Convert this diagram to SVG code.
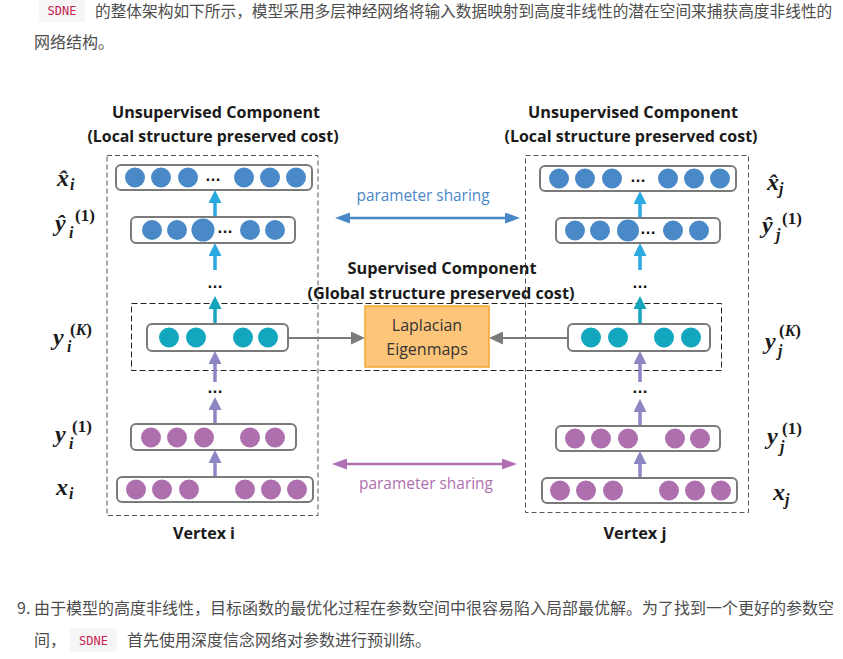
<svg xmlns="http://www.w3.org/2000/svg" width="843" height="659" viewBox="0 0 843 659">
<style>
.cn{font-family:"Noto Sans CJK SC","Noto Sans",sans-serif;font-size:16px;fill:#4d4d4d}
.code{font-family:"DejaVu Sans Mono","Liberation Mono",monospace;font-size:12px;fill:#c7254e}
.badge{fill:#f6f6f6}
.hd{font-family:"Open Sans","Liberation Sans",sans-serif;font-weight:bold;font-size:16px;fill:#1a1a1a;text-anchor:middle}
.lbl{font-family:"Open Sans","Liberation Sans",sans-serif;font-size:16px;text-anchor:middle}
.m{font-family:"Liberation Serif","DejaVu Serif",serif;font-style:italic;font-weight:bold;font-size:24px;fill:#1a1a1a}
.ms{font-family:"Liberation Serif","DejaVu Serif",serif;font-style:italic;font-weight:bold;font-size:16px;fill:#1a1a1a}
.mu{font-family:"Liberation Serif","DejaVu Serif",serif;font-style:normal;font-weight:bold;font-size:17px;fill:#1a1a1a}
.dots{font-family:"Liberation Sans",sans-serif;font-weight:bold;font-size:16px;fill:#111;text-anchor:middle}
.row{fill:#fff;stroke:#7a7a7a;stroke-width:2}
.cb{fill:#4a89c8}
.ct{fill:#13a6bf}
.cp{fill:#ae6fae}
.dash{fill:none;stroke:#555;stroke-width:1;stroke-dasharray:5 3}
.dash2{fill:none;stroke:#222;stroke-width:1;stroke-dasharray:6 3}
.ab{stroke:#29a9e0;stroke-width:3.5;fill:none}
.at{stroke:#17a3bc;stroke-width:3.5;fill:none}
.ap{stroke:#8c86c4;stroke-width:3.5;fill:none}
.ag{stroke:#7b7b7b;stroke-width:2;fill:none}
.sb{stroke:#4a87c8;stroke-width:2.5;fill:none}
.sp{stroke:#b06fb0;stroke-width:2.5;fill:none}
</style>
<defs>
<marker id="hb" markerWidth="13" markerHeight="13" refX="4" refY="6.5" orient="auto" markerUnits="userSpaceOnUse"><path d="M0,0 L13,6.5 L0,13 z" fill="#29a9e0"/></marker>
<marker id="ht" markerWidth="13" markerHeight="13" refX="4" refY="6.5" orient="auto" markerUnits="userSpaceOnUse"><path d="M0,0 L13,6.5 L0,13 z" fill="#17a3bc"/></marker>
<marker id="hp" markerWidth="13" markerHeight="13" refX="4" refY="6.5" orient="auto" markerUnits="userSpaceOnUse"><path d="M0,0 L13,6.5 L0,13 z" fill="#8c86c4"/></marker>
<marker id="hg" markerWidth="14" markerHeight="13" refX="4" refY="6.5" orient="auto" markerUnits="userSpaceOnUse"><path d="M0,0 L14,6.5 L0,13 z" fill="#7b7b7b"/></marker>
<marker id="sbE" markerWidth="15" markerHeight="11" refX="5" refY="5.5" orient="auto" markerUnits="userSpaceOnUse"><path d="M0,0 L15,5.5 L0,11 z" fill="#4a87c8"/></marker>
<marker id="sbS" markerWidth="15" markerHeight="11" refX="10" refY="5.5" orient="auto" markerUnits="userSpaceOnUse"><path d="M15,0 L0,5.5 L15,11 z" fill="#4a87c8"/></marker>
<marker id="spE" markerWidth="15" markerHeight="11" refX="5" refY="5.5" orient="auto" markerUnits="userSpaceOnUse"><path d="M0,0 L15,5.5 L0,11 z" fill="#b06fb0"/></marker>
<marker id="spS" markerWidth="15" markerHeight="11" refX="10" refY="5.5" orient="auto" markerUnits="userSpaceOnUse"><path d="M15,0 L0,5.5 L15,11 z" fill="#b06fb0"/></marker>
</defs>
<rect width="843" height="659" fill="#fff"/>

<!-- page text -->
<g id="intro">
<rect class="badge" x="39" y="0" width="46" height="22" rx="3"/>
<text class="code" x="62" y="15" text-anchor="middle">SDNE</text>
<text class="cn" x="95" y="17" style="font-size:15.7px">的整体架构如下所示，模型采用多层神经网络将输入数据映射到高度非线性的潜在空间来捕获高度非线性的</text>
<text class="cn" x="34" y="48">网络结构。</text>
</g>
<g id="note9">
<text class="cn" x="17" y="614">9.</text>
<text class="cn" x="34" y="614" textLength="800" lengthAdjust="spacingAndGlyphs">由于模型的高度非线性，目标函数的最优化过程在参数空间中很容易陷入局部最优解。为了找到一个更好的参数空</text>
<text class="cn" x="34" y="646">间，</text>
<rect class="badge" x="70" y="628" width="47" height="24" rx="3"/>
<text class="code" x="93.5" y="645" text-anchor="middle">SDNE</text>
<text class="cn" x="127" y="646">首先使用深度信念网络对参数进行预训练。</text>
</g>

<!-- dashed regions -->
<g id="regions">
<rect class="dash" x="107" y="155.5" width="211" height="360"/>
<rect class="dash" x="525.5" y="155.5" width="223" height="357"/>
<rect class="dash2" x="131.5" y="303.5" width="590" height="67"/>
</g>

<!-- headings -->
<g id="headings">
<text class="hd" x="216" y="118" textLength="208" lengthAdjust="spacingAndGlyphs">Unsupervised Component</text>
<text class="hd" x="213" y="142" textLength="251" lengthAdjust="spacingAndGlyphs">(Local structure preserved cost)</text>
<text class="hd" x="633" y="118" textLength="210" lengthAdjust="spacingAndGlyphs">Unsupervised Component</text>
<text class="hd" x="631" y="142" textLength="253" lengthAdjust="spacingAndGlyphs">(Local structure preserved cost)</text>
<text class="hd" x="442" y="274" textLength="189" lengthAdjust="spacingAndGlyphs">Supervised Component</text>
<text class="hd" x="441" y="299" textLength="267" lengthAdjust="spacingAndGlyphs">(Global structure preserved cost)</text>
<text class="hd" x="204" y="539" textLength="62" lengthAdjust="spacingAndGlyphs">Vertex i</text>
<text class="hd" x="635" y="539" textLength="63" lengthAdjust="spacingAndGlyphs">Vertex j</text>
</g>

<!-- connectors -->
<g id="connectors">
<line class="ab" x1="215" y1="217" x2="215" y2="199" marker-end="url(#hb)"/>
<line class="ab" x1="215" y1="270" x2="215" y2="252" marker-end="url(#hb)"/>
<line class="at" x1="215" y1="324" x2="215" y2="305" marker-end="url(#ht)"/>
<line class="ap" x1="215" y1="382" x2="215" y2="360" marker-end="url(#hp)"/>
<line class="ap" x1="215" y1="424" x2="215" y2="406" marker-end="url(#hp)"/>
<line class="ap" x1="215" y1="477" x2="215" y2="459" marker-end="url(#hp)"/>

<line class="ab" x1="640" y1="218" x2="640" y2="200" marker-end="url(#hb)"/>
<line class="ab" x1="640" y1="270" x2="640" y2="252" marker-end="url(#hb)"/>
<line class="at" x1="640" y1="324" x2="640" y2="305" marker-end="url(#ht)"/>
<line class="ap" x1="640" y1="382" x2="640" y2="360" marker-end="url(#hp)"/>
<line class="ap" x1="640" y1="426" x2="640" y2="408" marker-end="url(#hp)"/>
<line class="ap" x1="640" y1="478" x2="640" y2="460" marker-end="url(#hp)"/>

<line class="ag" x1="288" y1="338" x2="355" y2="338" marker-end="url(#hg)"/>
<line class="ag" x1="568" y1="338" x2="499" y2="338" marker-end="url(#hg)"/>

<line class="sb" x1="345" y1="218" x2="510" y2="218" marker-start="url(#sbS)" marker-end="url(#sbE)"/>
<line class="sp" x1="342" y1="464" x2="507" y2="464" marker-start="url(#spS)" marker-end="url(#spE)"/>
<text class="lbl" x="423" y="201" fill="#4a87c8" textLength="133" lengthAdjust="spacingAndGlyphs">parameter sharing</text>
<text class="lbl" x="426" y="489" fill="#b06fb0" textLength="134" lengthAdjust="spacingAndGlyphs">parameter sharing</text>
<text class="dots" x="215" y="288">…</text>
<text class="dots" x="215" y="393">…</text>
<text class="dots" x="640" y="288">…</text>
<text class="dots" x="640" y="393">…</text>
</g>

<!-- left column nodes -->
<g id="xhat_i">
<rect class="row" x="116" y="165" width="196" height="25" rx="5"/>
<circle class="cb" cx="135" cy="177.5" r="10"/><circle class="cb" cx="161" cy="177.5" r="10"/><circle class="cb" cx="188" cy="177.5" r="10"/>
<text class="dots" x="213" y="181">…</text>
<circle class="cb" cx="244" cy="177.5" r="10"/><circle class="cb" cx="270" cy="177.5" r="10"/><circle class="cb" cx="296" cy="177.5" r="10"/>
<text class="m" x="57" y="186">x̂<tspan class="ms" x="70" y="190">i</tspan></text>
</g>
<g id="yhat1_i">
<rect class="row" x="131" y="217" width="164" height="26" rx="5"/>
<circle class="cb" cx="152" cy="230" r="10"/><circle class="cb" cx="177" cy="230" r="10"/><circle class="cb" cx="203" cy="230" r="11.5"/>
<text class="dots" x="225" y="233">…</text>
<circle class="cb" cx="250" cy="230" r="10"/><circle class="cb" cx="275" cy="230" r="10"/>
<text class="m" x="55" y="231">ŷ<tspan class="ms" x="69" y="238">i</tspan><tspan class="mu" x="75" y="221">(1)</tspan></text>
</g>
<g id="yK_i">
<rect class="row" x="147" y="324" width="141" height="27" rx="5"/>
<circle class="ct" cx="169" cy="337.5" r="10"/><circle class="ct" cx="196" cy="337.5" r="10"/><circle class="ct" cx="243" cy="337.5" r="10"/><circle class="ct" cx="268" cy="337.5" r="10"/>
<text class="m" x="53" y="345">y<tspan class="ms" x="67" y="352">i</tspan><tspan class="mu" x="70" y="335">(<tspan class="ms">K</tspan>)</tspan></text>
</g>
<g id="y1_i">
<rect class="row" x="131" y="424" width="165" height="26" rx="5"/>
<circle class="cp" cx="151" cy="437.5" r="10"/><circle class="cp" cx="177" cy="437.5" r="10"/><circle class="cp" cx="204" cy="437.5" r="10"/><circle class="cp" cx="250" cy="437.5" r="10"/><circle class="cp" cx="275" cy="437.5" r="10"/>
<text class="m" x="55" y="442">y<tspan class="ms" x="69" y="449">i</tspan><tspan class="mu" x="72" y="432">(1)</tspan></text>
</g>
<g id="x_i">
<rect class="row" x="117" y="477" width="196" height="25" rx="5"/>
<circle class="cp" cx="136" cy="489.5" r="10"/><circle class="cp" cx="162" cy="489.5" r="10"/><circle class="cp" cx="189" cy="489.5" r="10"/><circle class="cp" cx="245" cy="489.5" r="10"/><circle class="cp" cx="271" cy="489.5" r="10"/><circle class="cp" cx="297" cy="489.5" r="10"/>
<text class="m" x="56" y="495">x<tspan class="ms" x="69" y="499">i</tspan></text>
</g>

<!-- Laplacian -->
<g id="laplacian">
<rect x="365" y="306" width="124" height="61" fill="#fdc57a" stroke="#f5a733" stroke-width="1.5"/>
<text class="lbl" x="427" y="331" fill="#333">Laplacian</text>
<text class="lbl" x="427" y="355" fill="#333">Eigenmaps</text>
</g>

<!-- right column nodes -->
<g id="xhat_j">
<rect class="row" x="540" y="166" width="196" height="25" rx="5"/>
<circle class="cb" cx="559" cy="178.5" r="10"/><circle class="cb" cx="585" cy="178.5" r="10"/><circle class="cb" cx="612" cy="178.5" r="10"/>
<text class="dots" x="638" y="182">…</text>
<circle class="cb" cx="668" cy="178.5" r="10"/><circle class="cb" cx="694" cy="178.5" r="10"/><circle class="cb" cx="720" cy="178.5" r="10"/>
<text class="m" x="767" y="190">x̂<tspan class="ms" x="779" y="194">j</tspan></text>
</g>
<g id="yhat1_j">
<rect class="row" x="556" y="218" width="164" height="25" rx="5"/>
<circle class="cb" cx="575" cy="230.5" r="10"/><circle class="cb" cx="600" cy="230.5" r="10"/><circle class="cb" cx="628" cy="230.5" r="11"/>
<text class="dots" x="648" y="234">…</text>
<circle class="cb" cx="673" cy="230.5" r="10"/><circle class="cb" cx="699" cy="230.5" r="10"/>
<text class="m" x="762" y="233">ŷ<tspan class="ms" x="776" y="240">j</tspan><tspan class="mu" x="782" y="224">(1)</tspan></text>
</g>
<g id="yK_j">
<rect class="row" x="568" y="324" width="142" height="27" rx="5"/>
<circle class="ct" cx="591" cy="337.5" r="10"/><circle class="ct" cx="618" cy="337.5" r="10"/><circle class="ct" cx="664" cy="337.5" r="10"/><circle class="ct" cx="691" cy="337.5" r="10"/>
<text class="m" x="765" y="349">y<tspan class="ms" x="778" y="356">j</tspan><tspan class="mu" x="779" y="336">(<tspan class="ms">K</tspan>)</tspan></text>
</g>
<g id="y1_j">
<rect class="row" x="556" y="426" width="164" height="25" rx="5"/>
<circle class="cp" cx="575" cy="438.5" r="10"/><circle class="cp" cx="601" cy="438.5" r="10"/><circle class="cp" cx="628" cy="438.5" r="10"/><circle class="cp" cx="675" cy="438.5" r="10"/><circle class="cp" cx="700" cy="438.5" r="10"/>
<text class="m" x="767" y="444">y<tspan class="ms" x="780" y="452">j</tspan><tspan class="mu" x="782" y="434">(1)</tspan></text>
</g>
<g id="x_j">
<rect class="row" x="542" y="478" width="195" height="25" rx="5"/>
<circle class="cp" cx="560" cy="490.5" r="10"/><circle class="cp" cx="586" cy="490.5" r="10"/><circle class="cp" cx="613" cy="490.5" r="10"/><circle class="cp" cx="669" cy="490.5" r="10"/><circle class="cp" cx="695" cy="490.5" r="10"/><circle class="cp" cx="721" cy="490.5" r="10"/>
<text class="m" x="773" y="500">x<tspan class="ms" x="785" y="505">j</tspan></text>
</g>
</svg>
